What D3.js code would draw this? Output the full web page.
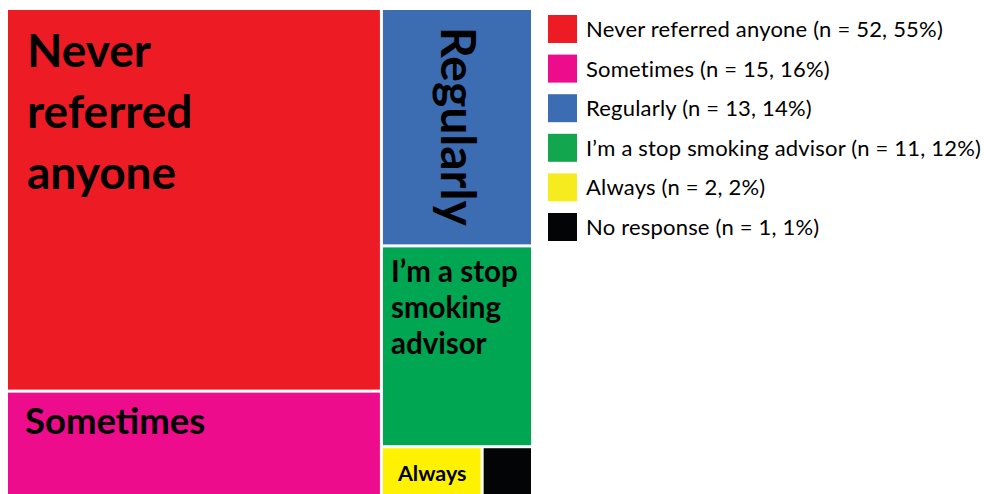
<!DOCTYPE html>
<html>
<head>
<meta charset="utf-8">
<script src="https://cdn.jsdelivr.net/npm/d3@7"></script>
<style>
  html, body { margin: 0; padding: 0; background: #fff; }
  svg { display: block; }
  text { font-family: Lato, "Open Sans", sans-serif; fill: #000; }
</style>
</head>
<body>
<svg id="chart" width="984" height="494"></svg>
<script>
// Responses: how often respondents refer people to stop smoking services
const categories = [
  "Never referred anyone",
  "Sometimes",
  "Regularly",
  "I’m a stop smoking advisor",
  "Always",
  "No response"
];
const counts   = [52, 15, 13, 11, 2, 1];
const percents = [55, 16, 14, 12, 2, 1];

// Text drawn inside each tile, one entry per line
const tileLines = [
  ["Never", "referred", "anyone"],
  ["Sometimes"],
  ["Regularly"],
  ["I’m a stop", "smoking", "advisor"],
  ["Always"],
  []
];

// Column grouping of the tiles (indices into categories)
const columns = [[0, 1], [2, 3, [4, 5]]];

const palette = ["#ED1C24", "#EC0C8C", "#3C6DB2", "#00A651", "#FFF200", "#030405"];
const legendPalette = ["#ED1C24", "#EC0C8C", "#3C6DB2", "#12A64E", "#F6EB1E", "#030405"];

// Per-tile label styling: font size, left inset, first baseline, line step, rotation
const labelStyle = [
  { size: 46, dx: 19, dy: 57, step: 61 },
  { size: 36.5, dx: 17, dy: 41, step: 40 },
  { size: 48, dx: 58, dy: 17, step: 0, rotate: true },
  { size: 29.5, dx: 8, dy: 35, step: 36 },
  { size: 21.5, dx: 15, dy: 33, step: 0 },
  { size: 20, dx: 0, dy: 0, step: 0 }
];

const svg = d3.select("#chart");
const margin = { left: 8, top: 10 };
const mapW = 523, mapH = 490;

function build(node) {
  if (Array.isArray(node)) return { children: node.map(build) };
  return { index: node, value: counts[node] };
}

const root = d3.hierarchy(build(columns))
  .sum(d => d.value || 0);

d3.treemap()
  .tile(d3.treemapSliceDice)
  .size([mapW, mapH])
  .paddingInner(3)
  .round(false)(root);

const g = svg.append("g").attr("transform", `translate(${margin.left},${margin.top})`);

const leaves = g.selectAll("g.tile")
  .data(root.leaves())
  .join("g")
  .attr("class", "tile")
  .attr("transform", d => `translate(${d.x0},${d.y0})`);

leaves.append("rect")
  .attr("width", d => d.x1 - d.x0)
  .attr("height", d => d.y1 - d.y0)
  .attr("fill", d => palette[d.data.index]);

leaves.each(function (d) {
  const i = d.data.index;
  const st = labelStyle[i];
  const lines = tileLines[i];
  if (!lines.length) return;
  const t = d3.select(this).append("text")
    .attr("font-weight", 700)
    .attr("font-size", st.size);
  if (st.rotate) {
    t.attr("transform", `translate(${st.dx},${st.dy}) rotate(90)`).text(lines[0]);
  } else {
    t.selectAll("tspan")
      .data(lines)
      .join("tspan")
      .attr("x", st.dx)
      .attr("y", (l, k) => st.dy + k * st.step)
      .text(l => l);
  }
});

// Legend
const legend = svg.append("g").attr("transform", "translate(548,15)");
const rowH = 39.6;
const items = legend.selectAll("g")
  .data(categories)
  .join("g")
  .attr("transform", (d, i) => `translate(0,${i * rowH})`);

items.append("rect")
  .attr("width", 29)
  .attr("height", 28)
  .attr("fill", (d, i) => legendPalette[i]);

items.append("text")
  .attr("x", 38)
  .attr("y", 22)
  .attr("font-size", 22)
  .attr("letter-spacing", 0.2)
  .text((d, i) => `${d} (n = ${counts[i]}, ${percents[i]}%)`);
</script>
</body>
</html>
